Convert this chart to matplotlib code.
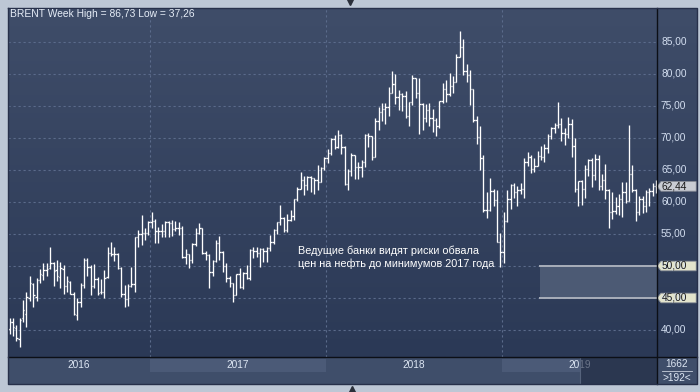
import numpy as np
import matplotlib.pyplot as plt
from matplotlib.lines import Line2D
from matplotlib.patches import Polygon, Rectangle
import matplotlib.transforms as mtransforms

plt.rcParams['font.family'] = ['Liberation Sans', 'DejaVu Sans']

# weekly BRENT bars, mid-March 2016 .. mid-November 2019
opens = [
    40.2, 41.2, 40.3, 38.6, 41.8, 42.5, 45.0, 47.2, 45.1, 47.8, 48.6, 49.3, 49.7, 50.4, 49.3, 48.3,
    49.6, 46.8, 47.5, 45.6, 42.4, 44.3, 47.0, 50.9, 49.8, 46.9, 48.0, 45.9, 45.9, 48.3, 52.0, 51.9,
    51.8, 49.7, 45.6, 44.8, 46.9, 47.2, 54.5, 55.0, 55.2, 55.2,
    56.8, 57.1, 55.5, 55.5, 55.5, 56.8, 56.7, 55.8, 56.0, 55.9, 51.4, 51.8, 51.0, 53.5, 55.2, 55.9,
    52.0, 51.7, 49.1, 50.8, 53.6, 52.2, 50.0, 48.2, 47.4, 45.5, 48.8, 46.7, 48.9, 48.1, 52.5, 52.4,
    52.1, 52.7, 52.4, 52.8, 53.8, 55.6, 56.9, 57.5, 55.6, 57.2, 57.8, 60.4, 62.1, 63.5, 62.7, 63.9,
    63.7, 63.4, 63.2, 65.3,
    66.9, 67.6, 69.9, 68.6, 70.5, 68.6, 62.8, 64.8, 67.3, 65.5, 65.5, 66.2, 70.5, 70.3, 67.1, 72.6,
    74.1, 74.6, 74.9, 77.1, 78.5, 76.4, 76.8, 76.5, 73.4, 75.6, 79.4, 77.1, 75.3, 73.1, 74.3, 73.2,
    72.8, 71.8, 75.8, 77.6, 76.8, 78.1, 78.8, 82.7, 84.2, 80.4, 79.8, 77.6, 72.8, 70.2, 66.8, 58.8,
    58.7, 61.7, 60.3, 53.8, 52.2,
    57.1, 60.5, 62.7, 61.6, 61.9, 62.1, 66.3, 67.1, 65.1, 65.7, 67.2, 67.0, 68.4, 70.3, 71.6, 72.0,
    72.2, 70.8, 70.6, 72.2, 68.7, 62.0, 63.3, 62.0, 65.2, 66.6, 64.2, 66.7, 62.5, 63.5, 61.9, 58.5,
    58.6, 59.3, 60.4, 61.5, 60.2, 64.3, 61.9, 58.4, 60.5, 59.4, 61.6, 61.7, 62.5,
]
highs = [
    41.9, 41.8, 40.8, 41.9, 44.7, 45.9, 48.5, 47.4, 48.1, 49.6, 50.5, 50.5, 52.9, 50.6, 51.0, 50.6,
    50.2, 48.5, 47.6, 45.9, 45.0, 47.4, 51.2, 51.2, 50.2, 50.3, 48.3, 47.9, 49.3, 53.0, 53.7, 52.9,
    52.0, 49.9, 47.1, 47.2, 49.9, 54.5, 55.6, 57.9, 56.0, 57.1,
    58.4, 57.3, 56.1, 56.6, 57.1, 57.1, 57.2, 57.0, 56.8, 56.3, 52.6, 51.9, 53.6, 55.9, 56.7, 55.9,
    52.4, 51.9, 51.0, 54.0, 54.7, 52.4, 50.5, 48.4, 47.4, 48.8, 49.7, 49.0, 50.1, 52.6, 53.0, 53.0,
    52.8, 52.8, 53.0, 54.8, 55.8, 56.9, 59.5, 57.6, 58.2, 58.8, 60.5, 62.3, 64.7, 64.0, 64.0, 64.1,
    63.8, 65.8, 65.4, 67.1,
    68.3, 70.0, 70.4, 71.3, 70.7, 68.8, 65.2, 67.7, 67.4, 66.3, 66.5, 70.6, 70.8, 70.3, 73.1, 74.8,
    75.5, 75.4, 78.0, 80.5, 80.0, 77.5, 77.0, 77.4, 75.7, 79.9, 79.4, 79.3, 75.5, 75.3, 75.5, 74.5,
    73.1, 75.8, 78.6, 79.0, 80.1, 79.7, 83.1, 86.7, 85.5, 81.6, 80.6, 77.6, 73.5, 71.8, 67.4, 61.5,
    63.7, 62.1, 61.8, 55.2, 58.4,
    61.9, 62.8, 63.0, 62.5, 63.0, 66.8, 67.8, 67.3, 66.8, 68.0, 68.7, 69.1, 70.7, 71.7, 72.3, 75.6,
    73.2, 71.6, 73.3, 72.9, 70.0, 63.3, 63.4, 65.8, 66.7, 66.8, 67.5, 67.3, 64.3, 66.0, 62.1, 61.5,
    60.8, 61.2, 63.2, 63.2, 72.0, 65.8, 62.0, 61.0, 61.0, 61.9, 62.2, 63.0, 63.4,
]
lows = [
    39.3, 39.1, 38.3, 37.3, 41.3, 40.5, 44.6, 43.6, 44.6, 47.3, 47.8, 48.5, 49.5, 46.9, 47.6, 46.6,
    45.7, 46.0, 45.6, 42.4, 41.5, 43.6, 46.5, 48.5, 45.5, 46.5, 45.5, 45.6, 45.0, 48.1, 51.5, 50.8,
    49.6, 45.2, 43.6, 43.8, 46.7, 45.9, 53.0, 53.3, 54.1, 54.9,
    55.9, 53.6, 53.6, 54.6, 54.6, 54.6, 54.7, 55.4, 54.8, 51.2, 50.3, 49.7, 50.5, 53.1, 55.0, 51.8,
    50.9, 46.6, 48.4, 50.6, 51.0, 49.0, 47.5, 46.7, 44.4, 45.4, 46.5, 46.4, 47.9, 47.8, 51.3, 51.4,
    49.8, 50.7, 50.6, 52.3, 53.4, 55.0, 56.4, 55.3, 55.3, 57.1, 57.2, 60.2, 62.0, 61.1, 61.8, 61.5,
    61.2, 61.9, 63.2, 65.0,
    66.1, 67.3, 68.3, 68.5, 67.5, 62.6, 61.8, 64.0, 63.6, 63.6, 63.9, 65.5, 68.6, 66.6, 67.0, 71.2,
    72.6, 72.2, 73.4, 77.0, 75.3, 74.3, 74.2, 73.2, 71.9, 75.1, 76.2, 70.6, 71.2, 72.5, 71.8, 71.0,
    70.3, 71.5, 75.4, 75.6, 76.6, 77.1, 78.7, 82.6, 79.8, 78.8, 75.1, 72.5, 69.1, 65.0, 58.4, 57.5,
    58.6, 59.4, 53.7, 49.9, 50.4,
    56.9, 58.9, 60.7, 59.3, 61.3, 60.6, 65.7, 64.6, 64.7, 65.6, 66.5, 66.3, 67.7, 69.8, 70.8, 71.6,
    69.5, 68.9, 70.0, 67.1, 61.5, 59.4, 59.5, 60.7, 64.0, 62.4, 63.5, 61.8, 61.9, 60.4, 55.9, 57.3,
    58.1, 57.9, 57.7, 59.8, 60.1, 61.5, 57.1, 57.9, 58.3, 58.5, 59.3, 61.0, 61.4,
]
closes = [
    41.2, 40.4, 38.7, 41.6, 43.1, 45.1, 47.4, 45.4, 47.8, 48.7, 49.3, 49.6, 50.5, 49.2, 48.4, 49.7,
    46.8, 47.6, 45.7, 42.5, 44.3, 47.0, 50.9, 49.9, 46.8, 48.0, 45.8, 45.9, 48.2, 52.0, 51.9, 51.8,
    49.7, 45.6, 44.8, 46.9, 47.2, 54.5, 55.0, 55.2, 55.2, 56.8,
    57.1, 55.5, 55.5, 55.5, 56.8, 56.7, 55.8, 56.0, 55.9, 51.4, 51.8, 51.0, 53.5, 55.2, 55.9, 52.0,
    51.7, 49.1, 50.8, 53.6, 52.2, 50.0, 48.2, 47.4, 45.5, 48.8, 46.7, 48.9, 48.1, 52.5, 52.4, 52.1,
    52.7, 52.4, 52.8, 53.8, 55.6, 56.9, 57.5, 55.6, 57.2, 57.8, 60.4, 62.1, 63.5, 62.7, 63.9, 63.7,
    63.4, 63.2, 65.3, 66.9,
    67.6, 69.9, 68.6, 70.5, 68.6, 62.8, 64.8, 67.3, 65.5, 65.5, 66.2, 70.5, 70.3, 67.1, 72.6, 74.1,
    74.6, 74.9, 77.1, 78.5, 76.4, 76.8, 76.5, 73.4, 75.6, 79.4, 77.1, 75.3, 73.1, 74.3, 73.2, 72.8,
    71.8, 75.8, 77.6, 76.8, 78.1, 78.8, 82.7, 84.2, 80.4, 79.8, 77.6, 72.8, 70.2, 66.8, 58.8, 58.7,
    61.7, 60.3, 53.8, 52.2, 57.1,
    60.5, 62.7, 61.6, 61.9, 62.1, 66.3, 67.1, 65.1, 65.7, 67.2, 67.0, 68.4, 70.3, 71.6, 72.0, 72.2,
    70.8, 70.6, 72.2, 68.7, 62.0, 63.3, 62.0, 65.2, 66.6, 64.2, 66.7, 62.5, 63.5, 61.9, 58.5, 58.6,
    59.3, 60.4, 61.5, 60.2, 64.3, 61.9, 58.4, 60.5, 59.4, 61.6, 61.7, 62.5, 62.44,
]

years = ['2016', '2017', '2018', '2019']
year_starts = [41.5, 93.5, 145.5]          # bar index where a new year begins
price_ticks = [40, 45, 50, 55, 60, 65, 70, 75, 80, 85]
zone_low, zone_high = 45.0, 50.0
last_price = closes[-1]
note = 'Ведущие банки видят риски обвала\nцен на нефть до минимумов 2017 года'

W, H = 700, 392
def fbox(l, t, r, b):
    return [l / W, 1 - b / H, (r - l) / W, (b - t) / H]

fig = plt.figure(figsize=(7, 3.92), dpi=100, facecolor='#bdc7d5')

x = np.arange(len(closes))
xlim = (-0.45, 191.25)
ylim = (35.78, 90.31)

# background gradient for the chart panel
bg = fig.add_axes(fbox(8, 8, 697, 357))
top = np.array([63, 77, 105]) / 255
bot = np.array([43, 57, 86]) / 255
t = np.linspace(0, 1, 256)[:, None]
grad = (top * (1 - t) + bot * t)[:, None, :]
bg.imshow(grad, aspect='auto', extent=[0, 1, 0, 1])
bg.axis('off')

ax = fig.add_axes(fbox(8, 8, 657, 357))
ax.set_facecolor('none')
ax.set_xlim(*xlim)
ax.set_ylim(*ylim)
for s in ax.spines.values():
    s.set_visible(False)
ax.set_xticks([])
ax.set_yticks([])

grid_kw = dict(color='#5b6b8b', lw=0.8, ls=(0, (2, 2.5)), zorder=1)
for p in price_ticks:
    ax.axhline(p, **grid_kw)
for ys in year_starts:
    ax.axvline(ys, **grid_kw)

# zone box
box_x0 = 156.7
ax.add_patch(Rectangle((box_x0, zone_low), xlim[1] - box_x0, zone_high - zone_low,
                       facecolor='#4c5a74', edgecolor='none', zorder=1.5))
for p in (zone_low, zone_high):
    ax.plot([box_x0, xlim[1]], [p, p], color='#a9afba', lw=1.4, zorder=2)

# OHLC bars
ax.vlines(x, lows, highs, colors='white', lw=0.95, zorder=3)
ax.hlines(opens, x - 0.42, x, colors='white', lw=0.95, zorder=3)
ax.hlines(closes, x, x + 0.42, colors='white', lw=0.95, zorder=3)

fig.text(10 / W, 1 - 14 / H, 'BRENT Week High = 86,73 Low = 37,26', color='#e6edf7',
         fontsize=7.4, va='center', ha='left')
fig.text(298 / W, 1 - 257 / H, note, color='white', fontsize=7.8, va='center', ha='left',
         linespacing=1.25)

# right price scale
axr = fig.add_axes(fbox(657, 8, 697, 357))
axr.set_facecolor('none')
axr.set_ylim(*ylim)
axr.set_xlim(0, 1)
axr.axis('off')
for p in price_ticks:
    axr.text(0.1, p, f'{p:.2f}'.replace('.', ','), color='#d3def0', fontsize=7.3, va='center')

trans = mtransforms.blended_transform_factory(axr.transAxes, axr.transData)
def tag(val, face, txt_color):
    h = 0.75
    pts = [(0.0, val), (0.1, val + h), (0.98, val + h), (0.98, val - h), (0.1, val - h)]
    axr.add_patch(Polygon(pts, closed=True, facecolor=face, edgecolor='#8a8f98', lw=0.6,
                          transform=trans, clip_on=False))
    axr.text(0.12, val, f'{val:.2f}'.replace('.', ','), color=txt_color, fontsize=7.3,
             va='center', transform=trans)

tag(last_price, '#c9ccd3', '#1a1a1a')
tag(zone_high, '#e3e4cc', '#1a1a1a')
tag(zone_low, '#e3e4cc', '#1a1a1a')

# bottom time strip
axb = fig.add_axes(fbox(8, 357, 657, 384))
axb.set_facecolor('#3f4e6a')
axb.set_xlim(*xlim)
axb.set_ylim(0, 1)
axb.set_xticks([])
axb.set_yticks([])
for s in axb.spines.values():
    s.set_visible(False)
axb.axvspan(year_starts[0], year_starts[1], ymin=0.44, ymax=0.93, color='#4b5a77', lw=0)
axb.axvspan(year_starts[2], 168.4, ymin=0.44, ymax=0.93, color='#4b5a77', lw=0)
bounds = [xlim[0]] + year_starts + [xlim[1]]
for i, yr in enumerate(years):
    axb.text((bounds[i] + bounds[i + 1]) / 2, 0.7, yr, color='#dde6f3', fontsize=7.3,
             ha='center', va='center', zorder=2)
# scroll thumb drawn over the labels, semi-transparent
axb.axvspan(168.4, xlim[1], color='#1e2840', alpha=0.6, lw=0, zorder=3)
axb.axvline(168.4, color='#56637c', lw=0.8, zorder=4)

axc = fig.add_axes(fbox(657, 357, 697, 384))
axc.set_facecolor('#3f4e6a')
axc.set_xlim(0, 1)
axc.set_ylim(0, 1)
axc.set_xticks([])
axc.set_yticks([])
for s in axc.spines.values():
    s.set_visible(False)
axc.text(0.5, 0.74, '1662', color='#dde6f3', fontsize=7.3, ha='center', va='center')
axc.text(0.5, 0.24, '>192<', color='#dde6f3', fontsize=7.3, ha='center', va='center')
axc.plot([0.12, 0.88], [0.5, 0.5], color='#c8d0dc', lw=0.6)

# frame lines
def fline(xs, ys, color, lw):
    fig.add_artist(Line2D([v / W for v in xs], [1 - v / H for v in ys], color=color, lw=lw,
                          transform=fig.transFigure))

fline([657, 657], [8, 384], '#0c0f16', 1.0)
fline([8, 697], [357, 357], '#0c0f16', 1.0)
fline([8, 697, 697, 8, 8], [8, 8, 384, 384, 8], '#27304a', 1.0)
fig.add_artist(Line2D([350 / W], [1 - 2 / H], marker='v', color='#2a2f3a', ms=5, ls='none',
                      transform=fig.transFigure))
fig.add_artist(Line2D([352 / W], [1 - 389 / H], marker='^', color='#2a2f3a', ms=5, ls='none',
                      transform=fig.transFigure))

fig.savefig('out.png', dpi=100, facecolor=fig.get_facecolor())
